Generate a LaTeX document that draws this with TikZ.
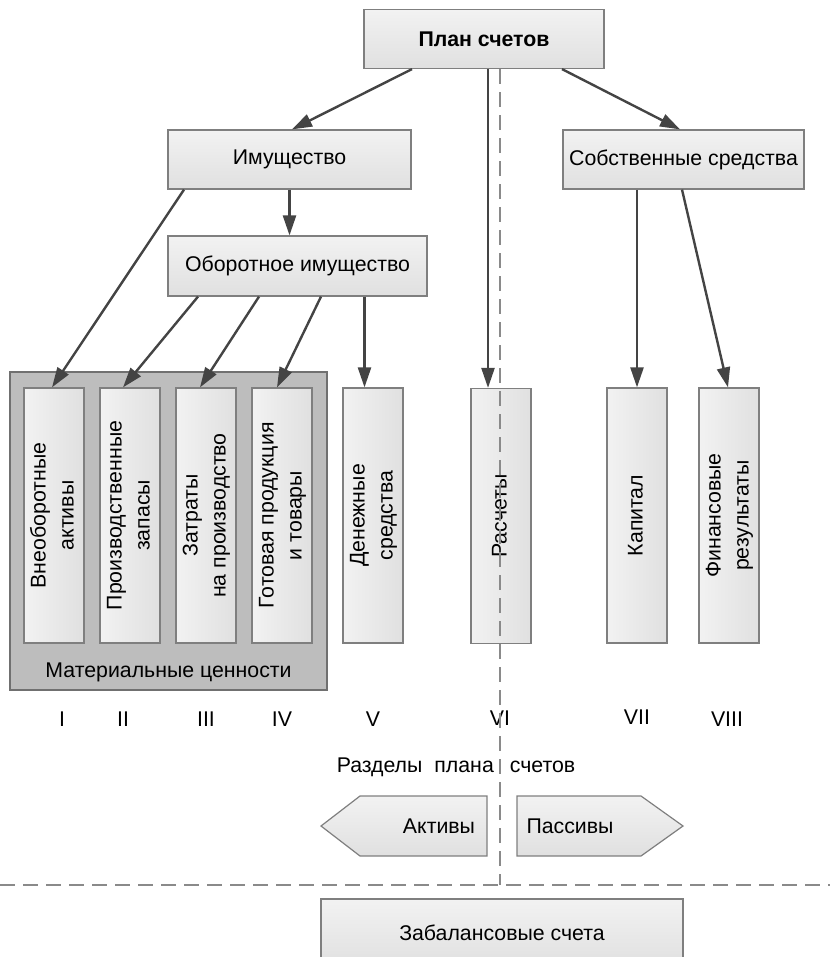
\documentclass[tikz,border=0pt]{standalone}
\usepackage{fontspec}
\setmainfont{Liberation Sans}
\usetikzlibrary{arrows.meta,calc}
\definecolor{boxtop}{HTML}{F2F2F2}
\definecolor{boxbot}{HTML}{E0E0E0}
\definecolor{boxedge}{HTML}{7F7F7F}
\definecolor{grpfill}{HTML}{BDBDBD}
\definecolor{grpedge}{HTML}{707070}
\definecolor{arrowgray}{HTML}{444444}
\definecolor{dashgray}{HTML}{8A8A8A}
\newcommand\vtext[1]{\rotatebox{90}{\begin{tabular}{@{}c@{}}#1\end{tabular}}}
\tikzset{
  hbox/.style={draw=boxedge, line width=1.2pt, top color=boxtop, bottom color=boxbot,
    minimum height=59pt, inner sep=0pt, anchor=center},
  vbox/.style={draw=boxedge, line width=1.2pt, left color=boxtop, right color=boxbot,
    minimum width=60pt, minimum height=255pt, inner sep=0pt, anchor=center},
  grpbox/.style={draw=grpedge, line width=1.2pt, fill=grpfill, inner sep=0pt},
  pent/.style={draw=boxedge, line width=1.2pt, top color=boxtop, bottom color=boxbot},
  arr/.style={draw=arrowgray, line width=2.4pt, -{Triangle[length=20pt,width=13pt]}},
  dashln/.style={draw=dashgray, line width=2pt, dash pattern=on 15pt off 8pt},
  lbl/.style={inner sep=0pt, anchor=center}
}
\begin{document}
\begin{tikzpicture}[x=1pt,y=-1pt, font=\fontsize{21.3}{28}\selectfont]
\useasboundingbox (0,0) rectangle (830,957);

% top level boxes
\node[hbox, minimum width=240pt, font=\fontsize{21.3}{26}\selectfont\bfseries] (plan) at (484,39) {План счетов};
\node[hbox, minimum width=243pt] (imush) at (289.5,159.5) {Имущество};
\node[hbox, minimum width=241pt] (sobst) at (683.5,159.5) {Собственные средства};
\node[hbox, minimum width=259pt, minimum height=60pt] (obor) at (297.5,266) {Оборотное имущество};

% group of material values
\node[grpbox, minimum width=317pt, minimum height=318pt] (grp) at (168.5,531) {};
\node[lbl] (grplbl) at (168.5,672) {Материальные ценности};

% vertical boxes
\node[vbox] (v1) at (54,515.5) {\vtext{Внеоборотные\\активы}};
\node[vbox] (v2) at (130,515.5) {\vtext{Производственные\\запасы}};
\node[vbox] (v3) at (206,515.5) {\vtext{Затраты\\на производство}};
\node[vbox] (v4) at (282,515.5) {\vtext{Готовая продукция\\и товары}};
\node[vbox] (v5) at (373,515.5) {\vtext{Денежные\\средства}};
\node[vbox] (v6) at (501,516) {\vtext{Расчеты}};
\node[vbox] (v7) at (637,515.5) {\vtext{Капитал}};
\node[vbox] (v8) at (729,515.5) {\vtext{Финансовые\\результаты}};

% roman numerals
\node[lbl] (r1) at (62,719) {I};
\node[lbl] (r2) at (123,719) {II};
\node[lbl] (r3) at (206,719) {III};
\node[lbl] (r4) at (282,719) {IV};
\node[lbl] (r5) at (373,719) {V};
\node[lbl] (r6) at (500,718) {VI};
\node[lbl] (r7) at (637,717) {VII};
\node[lbl] (r8) at (727,719) {VIII};

% sections label
\node[lbl] (razd) at (456,767) {Разделы\hspace{12pt}плана\hspace{16pt}счетов};

% assets / liabilities arrows
\draw[pent] (321,826) -- (360,796) -- (487,796) -- (487,856) -- (360,856) -- cycle;
\draw[pent] (517,796) -- (641,796) -- (683,826) -- (641,856) -- (517,856) -- cycle;
\node[lbl] (akt) at (439,826) {Активы};
\node[lbl] (pas) at (570,826) {Пассивы};

% off-balance accounts
\node[hbox, minimum width=362pt, minimum height=68pt] (zab) at (502,933) {Забалансовые счета};

% connectors
\draw[arr] ([xshift=-72pt]plan.south) -- ([xshift=2.5pt]imush.north);
\draw[arr] ([xshift=78pt]plan.south) -- ([xshift=-3.5pt]sobst.north);
\draw[arr] ([xshift=4pt]plan.south) -- ([xshift=-13pt]v6.north);
\draw[arr] ([xshift=-105.5pt]imush.south) -- ([xshift=-2pt]v1.north);
\draw[arr] (imush.south) -- (imush.south |- obor.north);
\draw[arr] ([xshift=-99.5pt]obor.south) -- ([xshift=-7pt]v2.north);
\draw[arr] ([xshift=-38.5pt]obor.south) -- ([xshift=-6pt]v3.north);
\draw[arr] ([xshift=23.5pt]obor.south) -- ([xshift=-5pt]v4.north);
\draw[arr] ([xshift=67pt]obor.south) -- ([xshift=-8.5pt]v5.north);
\draw[arr] ([xshift=-46.5pt]sobst.south) -- (v7.north);
\draw[arr] ([xshift=-1.5pt]sobst.south) -- ([xshift=-1pt]v8.north);

% dashed dividers
\coordinate (dj) at (500,885);
\coordinate (dl) at (0,885);
\coordinate (dr) at (830,885);
\draw[dashln] ([xshift=16pt]plan.south) -- (dj);
\draw[dashln] (dl) -- (dr);
\end{tikzpicture}
\end{document}
